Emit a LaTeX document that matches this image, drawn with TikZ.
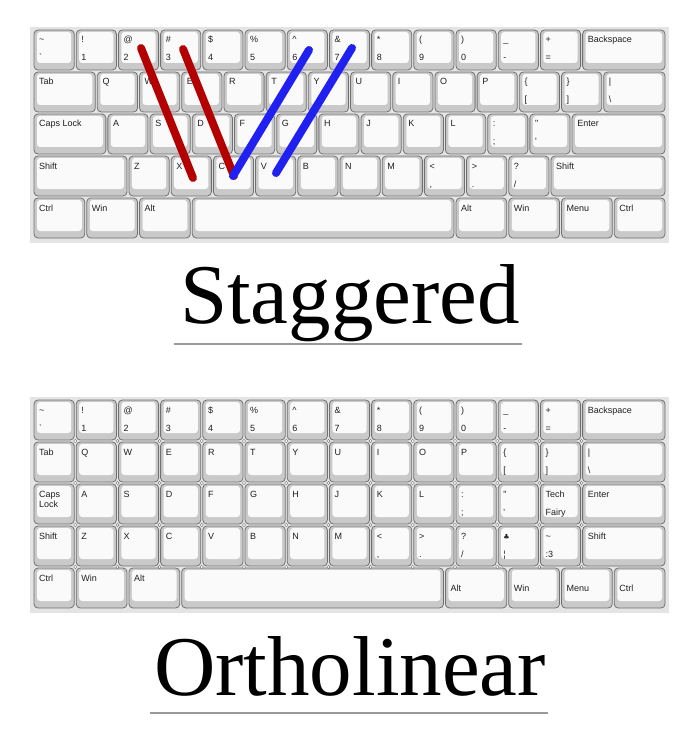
\documentclass[tikz,border=0pt]{standalone}
\usepackage{fontspec}
\setmainfont{Liberation Serif}
\newfontfamily\keyfont{Liberation Sans}
\newfontfamily\symbolfont{DejaVu Sans}
\usetikzlibrary{positioning}

\tikzset{
    keycap/.style={draw=keyBorder, fill=keyRim, line width=0.8pt, rounded corners=4pt,
        minimum height=40pt, inner sep=0pt, outer sep=0pt,
        path picture={\fill[keyFace, rounded corners=3pt]
            ([shift={(3,2)}]path picture bounding box.north west) rectangle
            ([shift={(-3,-7)}]path picture bounding box.south east);}},
    keytext/.style={font=\keyfont\fontsize{9}{10}\selectfont, text=keyText, inner sep=0pt, anchor=base west},
    titletext/.style={font=\fontsize{85}{90}\selectfont, anchor=base, inner sep=0pt},
    titlerule/.style={draw=ruleColour, line width=1.2pt},
    fingerline/.style={line width=8pt, line cap=round}
}

% One row of keys: #1 baseline of the upper legend, #2 row name, #3 start point, #4 width/upper/lower
\newcommand{\keyrow}[4][13]{%
    \coordinate (#2-0) at #3;
    \foreach \w/\keytop/\keybot [count=\i] in {#4} {
        \pgfmathtruncatemacro{\j}{\i-1}
        \node[keycap, minimum width=\w*\unit-2, right=2pt of #2-\j] (#2-\i) {};
        \node[keytext] (#2-\i-top) at ([shift={(5,#1)}]#2-\i.north west) {\keytop};
        \node[keytext] (#2-\i-bot) at ([shift={(5,31)}]#2-\i.north west) {\keybot};
    }
}

\begin{document}
\begin{tikzpicture}[x=1pt, y=-1pt]
    % Define colours
    \definecolor{keyBorder}{HTML}{707070}
    \definecolor{keyRim}{HTML}{C9C9C9}
    \definecolor{keyFace}{HTML}{FAFAFA}
    \definecolor{keyText}{HTML}{202020}
    \definecolor{boardColour}{HTML}{E4E4E4}
    \definecolor{ruleColour}{HTML}{9A9A9A}
    \definecolor{redLine}{HTML}{B30000}
    \definecolor{blueLine}{HTML}{2020F0}

    % Define key unit
    \def\unit{42.2}

    \useasboundingbox (0,0) rectangle (700,738);

    % Draw staggered board
    \fill[boardColour] (30,27) rectangle (669,243);
    \keyrow{s1}{(32,50)}{1/\textasciitilde/\textasciigrave, 1/!/1, 1/@/2, 1/\#/3, 1/\$/4, 1/\%/5,
        1/\textasciicircum/6, 1/\&/7, 1/*/8, 1/{(}/9, 1/{)}/0, 1/\_/-, 1/+/=, 2/Backspace/}
    \keyrow{s2}{(32,92)}{1.5/Tab/, 1/Q/, 1/W/, 1/E/, 1/R/, 1/T/, 1/Y/, 1/U/, 1/I/, 1/O/, 1/P/,
        1/\{/[, 1/\}/], 1.5/\textbar/\textbackslash}
    \keyrow{s3}{(32,134)}{1.75/Caps Lock/, 1/A/, 1/S/, 1/D/, 1/F/, 1/G/, 1/H/, 1/J/, 1/K/, 1/L/,
        1/:/;, 1/\textquotedbl/\textquotesingle, 2.25/Enter/}
    \keyrow{s4}{(32,176)}{2.25/Shift/, 1/Z/, 1/X/, 1/C/, 1/V/, 1/B/, 1/N/, 1/M/,
        1/\textless/{,}, 1/\textgreater/., 1/?/{/}, 2.75/Shift/}
    \keyrow{s5}{(32,218)}{1.25/Ctrl/, 1.25/Win/, 1.25/Alt/, 6.25//, 1.25/Alt/, 1.25/Win/,
        1.25/Menu/, 1.25/Ctrl/}

    % Finger paths across the stagger
    \coordinate (red1-top) at (141,48);
    \coordinate (red1-bot) at (193,178);
    \coordinate (red2-top) at (183,49);
    \coordinate (red2-bot) at (234,176);
    \coordinate (blue1-bot) at (233,176);
    \coordinate (blue1-top) at (309,50);
    \coordinate (blue2-bot) at (276,173);
    \coordinate (blue2-top) at (352,48);
    \draw[fingerline, redLine] (red1-top) -- (red1-bot);
    \draw[fingerline, redLine] (red2-top) -- (red2-bot);
    \draw[fingerline, blueLine] (blue1-bot) -- (blue1-top);
    \draw[fingerline, blueLine] (blue2-bot) -- (blue2-top);

    % Staggered title
    \node[titletext] (stagTitle) at (350,323) {Staggered};
    \draw[titlerule] (174,344) -- (522,344);

    % Draw ortholinear board
    \fill[boardColour] (30,397) rectangle (669,613);
    \keyrow{o1}{(32,420)}{1/\textasciitilde/\textasciigrave, 1/!/1, 1/@/2, 1/\#/3, 1/\$/4, 1/\%/5,
        1/\textasciicircum/6, 1/\&/7, 1/*/8, 1/{(}/9, 1/{)}/0, 1/\_/-, 1/+/=, 2/Backspace/}
    \keyrow{o2}{(32,462)}{1/Tab/, 1/Q/, 1/W/, 1/E/, 1/R/, 1/T/, 1/Y/, 1/U/, 1/I/, 1/O/, 1/P/,
        1/\{/[, 1/\}/], 2/\textbar/\textbackslash}
    \keyrow{o3}{(32,504)}{1/{\vtop{\hbox{Caps}\hbox{Lock}}}/, 1/A/, 1/S/, 1/D/, 1/F/, 1/G/, 1/H/,
        1/J/, 1/K/, 1/L/, 1/:/;, 1/\textquotedbl/\textquotesingle, 1/Tech/Fairy, 2/Enter/}
    \keyrow{o4}{(32,546)}{1/Shift/, 1/Z/, 1/X/, 1/C/, 1/V/, 1/B/, 1/N/, 1/M/, 1/\textless/{,},
        1/\textgreater/., 1/?/{/}, 1/{{\symbolfont\fontsize{7}{8}\selectfont ♣}}/¦,
        1/\textasciitilde/:3, 2/Shift/}
    \keyrow{o5a}{(32,588)}{1/Ctrl/, 1.25/Win/, 1.25/Alt/, 6.25//}
    \keyrow[23]{o5b}{(o5a-4.east)}{1.5/Alt/, 1.25/Win/, 1.25/Menu/, 1.25/Ctrl/}

    % Grid dots between ortholinear keys
    \foreach \c in {1,...,13}
        \foreach \r in {441,483,525,567}
            \filldraw[fill=white, draw=keyBorder, line width=0.4pt] (34+\c*\unit-1,\r) circle (1.6pt);

    % Ortholinear title
    \node[titletext] (orthoTitle) at (350,695) {Ortholinear};
    \draw[titlerule] (150,713) -- (548,713);

\end{tikzpicture}
\end{document}
